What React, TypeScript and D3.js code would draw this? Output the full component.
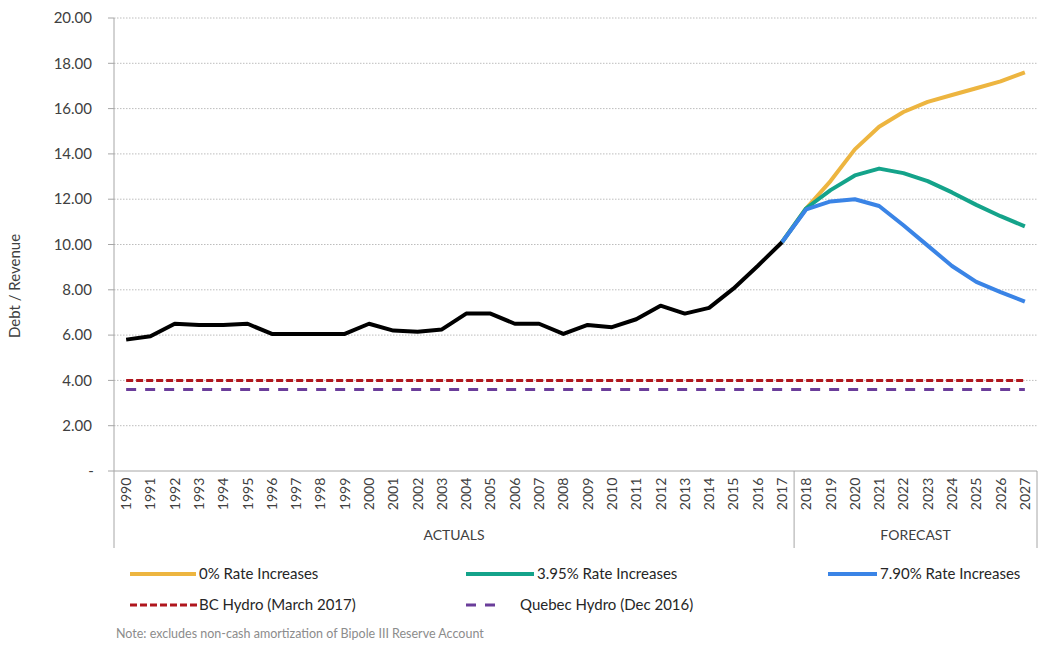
import React from "react";
import * as d3 from "d3";

const years: string[] = d3.range(1990, 2028).map(String);

const actualYears: string[] = d3.range(1990, 2018).map(String);
const actualValues: number[] = [
  5.8, 5.95, 6.5, 6.45, 6.45, 6.5, 6.05, 6.05, 6.05, 6.05, 6.5, 6.2, 6.15, 6.25,
  6.95, 6.95, 6.5, 6.5, 6.05, 6.45, 6.35, 6.7, 7.3, 6.95, 7.2, 8.05, 9.05, 10.1,
];

const forecastYears: string[] = d3.range(2017, 2028).map(String);
const rate0Values: number[] = [10.1, 11.6, 12.8, 14.2, 15.2, 15.85, 16.3, 16.6, 16.9, 17.2, 17.6];
const rate395Values: number[] = [10.1, 11.6, 12.4, 13.05, 13.35, 13.15, 12.8, 12.3, 11.75, 11.25, 10.8];
const rate790Values: number[] = [10.1, 11.55, 11.9, 12.0, 11.7, 10.85, 9.95, 9.05, 8.35, 7.9, 7.48];

const bcHydro = 4.0;
const quebecHydro = 3.6;

const yTicks: number[] = [0, 2, 4, 6, 8, 10, 12, 14, 16, 18, 20];
const groups = [
  { label: "ACTUALS", from: "1990", to: "2017" },
  { label: "FORECAST", from: "2018", to: "2027" },
];

const FONT = "Lato, 'Open Sans', sans-serif";
const COLORS = {
  actual: "#000000",
  r0: "#EDB540",
  r395: "#14A38A",
  r790: "#3A84E6",
  bc: "#B0161E",
  qc: "#6A3D9A",
};

export default function App() {
  const left = 114;
  const right = 1037;
  const top = 18;
  const bottom = 471;

  const x = d3.scaleBand<string>().domain(years).range([left, right]).paddingInner(0).paddingOuter(0);
  const cx = (yr: string) => (x(yr) as number) + x.bandwidth() / 2;
  const y = d3.scaleLinear().domain([0, 20]).range([bottom, top]);

  const line = d3
    .line<[string, number]>()
    .x((d) => cx(d[0]))
    .y((d) => y(d[1]));

  const zip = (ks: string[], vs: number[]) => ks.map((k, i) => [k, vs[i]] as [string, number]);

  const series = [
    { vals: rate0Values, color: COLORS.r0 },
    { vals: rate395Values, color: COLORS.r395 },
    { vals: rate790Values, color: COLORS.r790 },
  ];

  const legendY1 = 574;
  const legendY2 = 605;

  return (
    <svg
      width={1039}
      height={646}
      style={{ position: "absolute", left: 0, top: 0, background: "#fff" }}
      fontFamily={FONT}
    >
      {/* gridlines */}
      {yTicks.slice(1).map((t) => (
        <line
          key={t}
          x1={left}
          x2={right}
          y1={y(t)}
          y2={y(t)}
          stroke="#bdbdbd"
          strokeWidth={1}
          strokeDasharray="1.5 1.5"
        />
      ))}

      {/* y axis */}
      <line x1={left} x2={left} y1={top} y2={548} stroke="#a6a6a6" strokeWidth={1} />
      {yTicks.map((t) => (
        <g key={t}>
          <line x1={left - 6} x2={left} y1={y(t)} y2={y(t)} stroke="#a6a6a6" />
          <text
            x={t === 0 ? 91 : 92}
            y={y(t)}
            dy="0.35em"
            textAnchor={t === 0 ? "middle" : "end"}
            fontSize={15}
            fill="#404040"
          >
            {t === 0 ? "-" : t.toFixed(2)}
          </text>
        </g>
      ))}
      <text
        transform={`translate(20, 286) rotate(-90)`}
        textAnchor="middle"
        fontSize={15}
        fill="#404040"
      >
        Debt / Revenue
      </text>

      {/* x axis */}
      <line x1={left} x2={right} y1={bottom} y2={bottom} stroke="#a6a6a6" />
      {years.map((yr) => (
        <text
          key={yr}
          transform={`translate(${cx(yr) + 5}, 494) rotate(-90)`}
          textAnchor="middle"
          fontSize={14}
          fill="#404040"
        >
          {yr}
        </text>
      ))}
      {groups.map((g) => {
        const x0 = x(g.from) as number;
        const x1 = (x(g.to) as number) + x.bandwidth();
        return (
          <g key={g.label}>
            <line x1={x1} x2={x1} y1={bottom} y2={548} stroke="#a6a6a6" />
            <text x={(x0 + x1) / 2} y={540} textAnchor="middle" fontSize={14} fill="#404040">
              {g.label}
            </text>
          </g>
        );
      })}

      {/* benchmark lines */}
      <line
        x1={cx(years[0])}
        x2={cx(years[years.length - 1])}
        y1={y(bcHydro)}
        y2={y(bcHydro)}
        stroke={COLORS.bc}
        strokeWidth={3}
        strokeDasharray="7 3"
      />
      <line
        x1={cx(years[0])}
        x2={cx(years[years.length - 1])}
        y1={y(quebecHydro)}
        y2={y(quebecHydro)}
        stroke={COLORS.qc}
        strokeWidth={3}
        strokeDasharray="10 9"
      />

      {/* forecast scenarios */}
      {series.map((s, i) => (
        <path
          key={i}
          d={line(zip(forecastYears, s.vals)) as string}
          fill="none"
          stroke={s.color}
          strokeWidth={4}
          strokeLinejoin="round"
        />
      ))}

      {/* actuals */}
      <path
        d={line(zip(actualYears, actualValues)) as string}
        fill="none"
        stroke={COLORS.actual}
        strokeWidth={4}
        strokeLinejoin="round"
      />

      {/* legend */}
      <g fontSize={15} fill="#262626">
        <line x1={130} x2={196} y1={legendY1} y2={legendY1} stroke={COLORS.r0} strokeWidth={4} />
        <text x={199} y={legendY1} dy="0.35em">0% Rate Increases</text>
        <line x1={466} x2={534} y1={legendY1} y2={legendY1} stroke={COLORS.r395} strokeWidth={4} />
        <text x={537} y={legendY1} dy="0.35em">3.95% Rate Increases</text>
        <line x1={828} x2={877} y1={legendY1} y2={legendY1} stroke={COLORS.r790} strokeWidth={4} />
        <text x={880} y={legendY1} dy="0.35em">7.90% Rate Increases</text>

        <line
          x1={130}
          x2={197}
          y1={legendY2}
          y2={legendY2}
          stroke={COLORS.bc}
          strokeWidth={3}
          strokeDasharray="7 3"
        />
        <text x={199} y={legendY2} dy="0.35em">BC Hydro (March 2017)</text>
        <line
          x1={466}
          x2={504}
          y1={legendY2}
          y2={legendY2}
          stroke={COLORS.qc}
          strokeWidth={3}
          strokeDasharray="10 9"
        />
        <text x={520} y={legendY2} dy="0.35em">Quebec Hydro (Dec 2016)</text>
      </g>

      <text x={116} y={634} dy="0.35em" fontSize={12.5} fill="#8c8c8c">
        Note: excludes non-cash amortization of Bipole III Reserve Account
      </text>
    </svg>
  );
}
